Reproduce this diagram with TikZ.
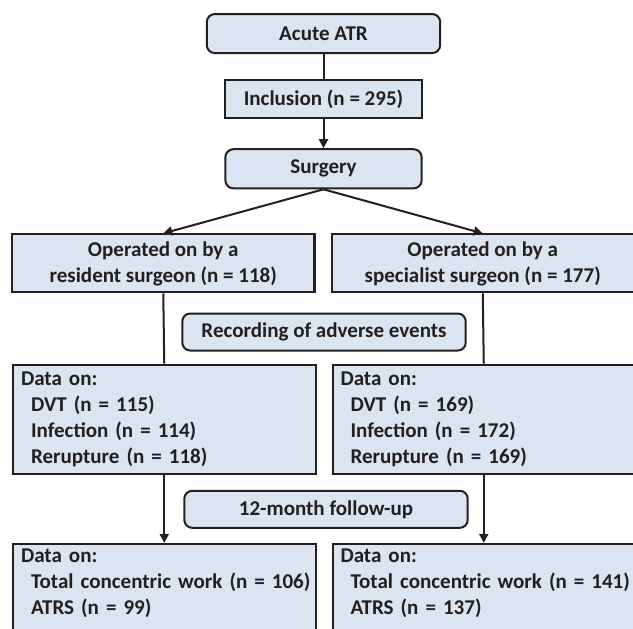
\documentclass[tikz,border=0pt]{standalone}
\usepackage{fontspec}
\setmainfont{Carlito}
\usetikzlibrary{arrows.meta}
\definecolor{boxblue}{RGB}{219,229,242}
\definecolor{boxline}{RGB}{35,31,32}
\newcommand{\itm}{\hspace*{5pt}}
\begin{document}
\begin{tikzpicture}[x=0.5pt,y=-0.5pt,line width=1pt,boxline,
	box/.style={draw=boxline,fill=boxblue,font=\bfseries\fontsize{10.5}{13}\selectfont,align=center,inner sep=0pt},
	rbox/.style={box,rounded corners=4pt},
	databox/.style={box,align=left,anchor=north west,text width=143pt,inner xsep=4pt,minimum height=54.5pt},
	arr/.style={-{Triangle[length=4.5pt,width=4.5pt]}}]
		\useasboundingbox (0,0) rectangle (632,628);
		\clip (0,0) rectangle (632,628);
		\node[rbox,minimum width=116.5pt,minimum height=19.5pt] (acute) at (323,33.5) {Acute ATR};
		\node[box,minimum width=98pt,minimum height=19pt] (incl) at (323,99) {Inclusion (n = 295)};
		\node[rbox,minimum width=98pt,minimum height=19.5pt] (surg) at (323,168.5) {Surgery};
		\node[box,minimum width=151pt,minimum height=29pt] (resid) at (163,263) {Operated on by a\\resident surgeon (n = 118)};
		\node[box,minimum width=151pt,minimum height=29pt] (spec) at (482,263) {Operated on by a\\specialist surgeon (n = 177)};
		\node[rbox,minimum width=141.5pt,minimum height=18.5pt] (adverse) at (323.5,331.5) {Recording of adverse events};
		\node[databox] (dataL) at (12,363) {Data on:\\\itm DVT (n = 115)\\\itm Infection (n = 114)\\\itm Rerupture (n = 118)};
		\node[databox] (dataR) at (331,363) {Data on:\\\itm DVT (n = 169)\\\itm Infection (n = 172)\\\itm Rerupture (n = 169)};
		\node[rbox,minimum width=141.5pt,minimum height=18.5pt] (follow) at (325.5,508.5) {12-month follow-up};
		\node[databox] (endL) at (12,542) {Data on:\\\itm\mbox{Total concentric work (n = 106)}\\\itm ATRS (n = 99)\\\strut};
		\node[databox] (endR) at (331,542) {Data on:\\\itm\mbox{Total concentric work (n = 141)}\\\itm ATRS (n = 137)\\\strut};
	%	arrows
		\draw (acute.south)--(incl.north);
		\draw[arr] (incl.south)--(surg.north);
		\draw[arr] (surg.south)--(resid.north);
		\draw[arr] (surg.south)--(spec.north);
		\draw (resid.south)--(dataL.north) (spec.south)--(dataR.north);
		\draw[arr] (dataL.south)--(endL.north);
		\draw[arr] (dataR.south)--(endR.north);
\end{tikzpicture}
\end{document}
